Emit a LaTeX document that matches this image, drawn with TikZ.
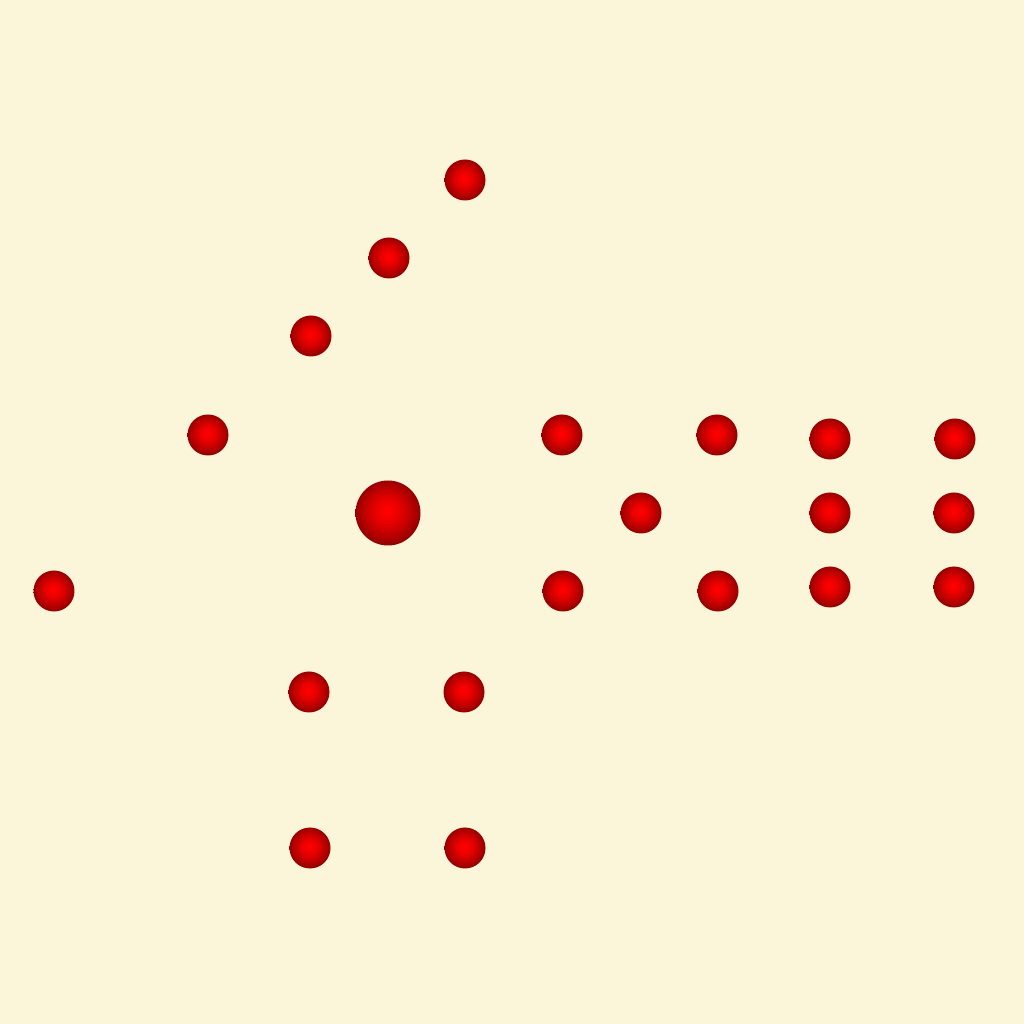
\documentclass[tikz,border=0pt]{standalone}
\usepackage{tikz}
\usetikzlibrary{calc, positioning}
\usepackage{xcolor}

\definecolor{paper}{HTML}{FBF6D9}
\pgfdeclareradialshading{redball}{\pgfpoint{-1bp}{2bp}}{%
    color(0bp)=(red); color(2bp)=(red); color(10bp)=(red!90!black);
    color(18bp)=(red!74!black); color(25bp)=(red!58!black);
    color(50bp)=(red!58!black)}

\begin{document}
\begin{tikzpicture}[
        dot/.style={
            circle, shading=redball, draw=none,
            minimum size=0.41cm, inner sep=0pt
        },
        hub/.style={
            dot, minimum size=0.65cm
        }
    ]

    % Background
    \fill[paper] (0, 0) rectangle (10.24, 10.24);
    \useasboundingbox (0, 0) rectangle (10.24, 10.24);

    % Centre
    \node[hub] (centre) at (3.88, 5.11) {};

    % Diagonal
    \node[dot] (diagA) at (4.65, 8.44) {};
    \node[dot] (diagB) at (3.89, 7.66) {};
    \node[dot] (diagC) at (3.11, 6.88) {};
    \node[dot] (diagD) at (2.08, 5.89) {};
    \node[dot] (diagE) at (0.54, 4.33) {};

    % Square below
    \node[dot] (sqA) at (3.09, 3.32) {};
    \node[dot] (sqB) at (4.64, 3.32) {};
    \node[dot] (sqC) at (3.10, 1.76) {};
    \node[dot] (sqD) at (4.65, 1.76) {};

    % Right group
    \node[dot] (rtA) at (5.62, 5.89) {};
    \node[dot] (rtB) at (5.63, 4.33) {};
    \node[dot] (rtC) at (6.41, 5.11) {};
    \node[dot] (rtD) at (7.17, 5.89) {};
    \node[dot] (rtE) at (7.18, 4.33) {};

    % Columns
    \node[dot] (colA) at (8.30, 5.85) {};
    \node[dot] (colB) at (8.30, 5.11) {};
    \node[dot] (colC) at (8.30, 4.37) {};
    \node[dot] (colD) at (9.55, 5.85) {};
    \node[dot] (colE) at (9.54, 5.11) {};
    \node[dot] (colF) at (9.54, 4.37) {};

\end{tikzpicture}
\end{document}
